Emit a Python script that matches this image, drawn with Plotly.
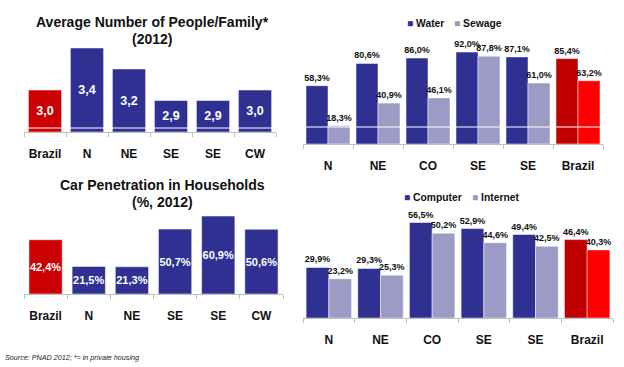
import plotly.graph_objects as go

# ---------------- data ----------------
fam_cats = ["Brazil", "N", "NE", "SE", "SE", "CW"]
fam_vals = [3.0, 3.4, 3.2, 2.9, 2.9, 3.0]

san_cats = ["N", "NE", "CO", "SE", "SE", "Brazil"]
water_vals = [58.3, 80.6, 86.0, 92.0, 87.1, 85.4]
sewage_vals = [18.3, 40.9, 46.1, 87.8, 61.0, 63.2]

car_cats = ["Brazil", "N", "NE", "SE", "SE", "CW"]
car_vals = [42.4, 21.5, 21.3, 50.7, 60.9, 50.6]

pc_cats = ["N", "NE", "CO", "SE", "SE", "Brazil"]
computer_vals = [29.9, 29.3, 56.5, 52.9, 49.4, 46.4]
internet_vals = [23.2, 25.3, 50.2, 44.6, 42.5, 40.3]

# ---------------- styles ----------------
W, H = 624, 367
FONT = "Liberation Sans, Arial, sans-serif"
BLUE = "#2E3192"
LIGHT = "#9B9BC6"
RED = "#CC0000"
DARKRED = "#C00000"
BRIGHTRED = "#FF0000"
AXIS = "#BFBFBF"
INK = "#111111"

def px_x(p):
    return p / W

def px_y(p):
    return 1 - p / H

def color_by(cats, normal, brazil):
    return [brazil if c == "Brazil" else normal for c in cats]

def fmt(v, pct):
    s = f"{v:.1f}".replace(".", ",")
    return s + "%" if pct else s

fig = go.Figure()

# top-left: average people per family (axis starts at 2.6)
FAM_BASE = 2.6
fig.add_trace(go.Bar(
    x=list(range(len(fam_cats))), y=[v - FAM_BASE for v in fam_vals], base=FAM_BASE,
    width=0.79,
    text=[fmt(v, False) for v in fam_vals], texttemplate="%{text}",
    textposition="inside", insidetextanchor="middle", constraintext="none", textangle=0,
    textfont=dict(color="white", size=12.5, family=FONT, weight="bold"),
    marker=dict(color=color_by(fam_cats, BLUE, RED), line=dict(color="white", width=0.5)),
    showlegend=False, xaxis="x", yaxis="y", hoverinfo="skip",
))

def grouped_bar(name, cats, vals, normal, brazil, xa, ya, size):
    return go.Bar(
        name=name, x=list(range(len(cats))), y=vals,
        text=[fmt(v, True) for v in vals], texttemplate="%{text}",
        textposition="outside", constraintext="none", cliponaxis=False, textangle=0,
        textfont=dict(color=INK, size=size, family=FONT, weight="bold"),
        marker=dict(color=color_by(cats, normal, brazil), line=dict(color="white", width=0.5)),
        xaxis=xa, yaxis=ya, showlegend=False, hoverinfo="skip",
    )

# top-right: water / sewage
fig.add_trace(grouped_bar("Water", san_cats, water_vals, BLUE, DARKRED, "x2", "y2", 9))
fig.add_trace(grouped_bar("Sewage", san_cats, sewage_vals, LIGHT, BRIGHTRED, "x2", "y2", 9))

# bottom-left: car penetration
fig.add_trace(go.Bar(
    x=list(range(len(car_cats))), y=car_vals, width=0.77,
    text=[fmt(v, True) for v in car_vals], texttemplate="%{text}",
    textposition="inside", insidetextanchor="middle", constraintext="none", textangle=0,
    textfont=dict(color="white", size=11, family=FONT, weight="bold"),
    marker=dict(color=color_by(car_cats, BLUE, RED), line=dict(color="white", width=0.5)),
    showlegend=False, xaxis="x3", yaxis="y3", hoverinfo="skip",
))

# bottom-right: computer / internet
fig.add_trace(grouped_bar("Computer", pc_cats, computer_vals, BLUE, DARKRED, "x4", "y4", 9))
fig.add_trace(grouped_bar("Internet", pc_cats, internet_vals, LIGHT, BRIGHTRED, "x4", "y4", 9))

# legend keys: one legend box per key so each can be placed like the original;
# the small square key is drawn as a coloured glyph right before the name
legend_keys = [
    ("Water", BLUE, "legend3", "x2", "y2"),
    ("Sewage", LIGHT, "legend", "x2", "y2"),
    ("Computer", BLUE, "legend4", "x4", "y4"),
    ("Internet", LIGHT, "legend2", "x4", "y4"),
]
for name, col, leg, xa, ya in legend_keys:
    fig.add_trace(go.Scatter(
        name=f'<span style="color:{col}">\u25A0</span> {name}', x=[None], y=[None],
        mode="markers",
        marker=dict(symbol="square", size=1, color="rgba(0,0,0,0)",
                    line=dict(width=0, color="rgba(0,0,0,0)")),
        xaxis=xa, yaxis=ya, legend=leg, showlegend=True, hoverinfo="skip",
    ))

def xaxis_cfg(cats, domain, anchor):
    n = len(cats)
    return dict(
        domain=domain, anchor=anchor, range=[-0.5, n - 0.5],
        tickmode="array", tickvals=list(range(n)), ticktext=cats,
        ticks="", ticklabelstandoff=11,
        tickfont=dict(family=FONT, size=12, color=INK, weight="bold"),
        showline=True, linecolor=AXIS, linewidth=1,
        showgrid=False, zeroline=False, fixedrange=True,
        minor=dict(tickmode="array", tickvals=[i - 0.5 for i in range(n + 1)],
                   ticks="outside", ticklen=4, tickcolor=AXIS, tickwidth=1, showgrid=False),
    )

def yaxis_cfg(domain, anchor, rng):
    return dict(domain=domain, anchor=anchor, range=rng, visible=False,
                showgrid=False, zeroline=False, fixedrange=True)

def legend_cfg(xpx, ypx):
    return dict(orientation="h", x=px_x(xpx), xanchor="left", y=px_y(ypx), yanchor="middle",
                font=dict(family=FONT, size=10.3, color=INK, weight="bold"),
                itemwidth=30, bgcolor="rgba(0,0,0,0)", borderwidth=0)

fig.update_layout(
    width=W, height=H,
    margin=dict(l=0, r=0, t=0, b=0),
    paper_bgcolor="white", plot_bgcolor="white",
    separators=",.",
    barmode="group",
    font=dict(family=FONT, color=INK),
    xaxis=xaxis_cfg(fam_cats, [px_x(24), px_x(276)], "y"),
    yaxis=yaxis_cfg([px_y(132), px_y(48)], "x", [FAM_BASE, 3.4]),
    xaxis2=xaxis_cfg(san_cats, [px_x(303), px_x(603)], "y2"),
    yaxis2=yaxis_cfg([px_y(144), px_y(44)], "x2", [0, 100]),
    xaxis3=xaxis_cfg(car_cats, [px_x(24), px_x(283)], "y3"),
    yaxis3=yaxis_cfg([px_y(294), px_y(204.4)], "x3", [0, 70]),
    xaxis4=xaxis_cfg(pc_cats, [px_x(303), px_x(613)], "y4"),
    yaxis4=yaxis_cfg([px_y(318), px_y(216.6)], "x4", [0, 60]),
    bargap=0.12, bargroupgap=0,
    legend3=legend_cfg(367, 23),
    legend=legend_cfg(414, 23),
    legend4=legend_cfg(364, 197),
    legend2=legend_cfg(432, 197),
)

title_font = dict(family=FONT, size=14, color=INK, weight="bold")
ann = [
    dict(text="Average Number of People/Family*", x=px_x(152), y=px_y(22)),
    dict(text="(2012)", x=px_x(152), y=px_y(39)),
    dict(text="Car Penetration in Households", x=px_x(162), y=px_y(185)),
    dict(text="(%, 2012)", x=px_x(162), y=px_y(202)),
]
for a in ann:
    fig.add_annotation(xref="paper", yref="paper", xanchor="center", yanchor="middle",
                       showarrow=False, font=title_font, **a)

fig.add_annotation(text="Source: PNAD 2012; *= in private housing", xref="paper", yref="paper",
                   x=px_x(3), y=px_y(357), xanchor="left", yanchor="middle", showarrow=False,
                   font=dict(family=FONT, size=7.2, color="#222222", style="italic"))

# faint white rule drawn across the bars near the baseline
fig.add_shape(type="line", xref="x domain", yref="y", x0=0, x1=1, y0=2.638, y1=2.638,
              line=dict(color="white", width=1), layer="above")
fig.add_shape(type="line", xref="x2 domain", yref="y2", x0=0, x1=1, y0=17, y1=17,
              line=dict(color="white", width=1), layer="above")

fig.write_html("out.html", config=dict(displayModeBar=False),
               post_script="document.body.style.margin='0';document.body.style.padding='0';")
